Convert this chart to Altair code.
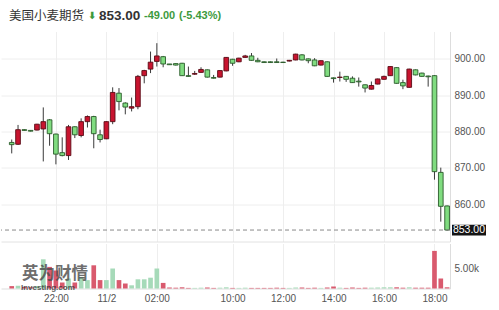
import altair as alt
import pandas as pd

# ---------------- data ----------------
IDX = list(range(70))
OPEN = [877.0, 876.5, 880.5, 880.3, 880.4, 880.7, 883.2, 879.3, 874.2, 873.4,
        881.3, 878.9, 882.7, 884.1, 879.1, 878.0, 882.7, 890.5, 887.8, 886.4,
        886.8, 895.3, 897.1, 899.2, 900.5, 898.5, 898.6, 898.7, 895.3, 895.7,
        896.2, 896.9, 894.8, 894.9, 896.6, 899.8, 899.1, 900.3, 900.7, 899.5,
        899.1, 899.1, 899.1, 899.0, 899.3, 899.6, 901.0, 899.9, 899.6, 898.2,
        899.1, 894.7, 894.8, 895.1, 894.6, 893.8, 892.8, 891.6, 893.0, 894.3,
        895.3, 897.5, 893.4, 892.1, 896.9, 896.0, 895.2, 895.3, 868.8, 859.6]
CLOSE = [876.4, 880.5, 880.3, 880.1, 882.0, 882.7, 879.4, 873.8, 873.4, 881.3,
         879.1, 882.7, 884.1, 879.4, 877.8, 882.7, 890.7, 888.2, 886.7, 886.8,
         895.1, 896.7, 899.0, 900.7, 898.5, 898.3, 898.2, 895.3, 895.1, 895.9,
         897.0, 894.9, 894.6, 896.7, 900.3, 898.7, 900.1, 900.7, 899.5, 899.1,
         898.9, 898.9, 898.9, 898.9, 899.5, 901.2, 899.6, 899.4, 898.0, 899.4,
         895.1, 894.5, 894.9, 894.3, 893.4, 893.6, 891.9, 892.6, 894.4, 895.1,
         897.8, 893.2, 892.5, 897.1, 895.5, 895.1, 895.0, 869.0, 859.5, 853.0]
HIGH = [877.8, 881.8, 880.6, 880.4, 882.1, 886.6, 883.4, 879.4, 878.4, 881.8,
        881.4, 883.6, 884.4, 884.3, 880.5, 882.8, 892.1, 891.9, 888.0, 889.3,
        895.5, 896.9, 901.9, 904.2, 900.7, 898.5, 898.7, 898.8, 897.8, 896.6,
        897.6, 897.0, 895.5, 896.8, 900.4, 899.9, 900.2, 901.0, 901.5, 900.2,
        899.2, 899.2, 900.0, 899.1, 899.6, 901.3, 901.2, 900.0, 900.1, 899.5,
        899.2, 894.8, 896.4, 895.2, 895.1, 894.8, 892.9, 893.7, 894.5, 895.3,
        897.9, 897.6, 894.2, 897.2, 897.0, 896.1, 895.3, 895.4, 870.1, 859.7]
LOW = [874.0, 876.3, 880.2, 880.0, 880.3, 871.8, 876.1, 871.0, 873.2, 872.2,
       878.2, 878.4, 881.1, 875.4, 877.0, 877.9, 882.0, 885.8, 884.7, 885.5,
       886.1, 893.2, 896.0, 897.8, 897.6, 898.3, 898.1, 895.2, 895.0, 895.5,
       896.1, 894.8, 894.5, 894.8, 896.5, 898.0, 899.0, 900.2, 899.4, 899.0,
       898.8, 898.8, 898.8, 898.8, 899.2, 899.5, 899.5, 898.7, 897.9, 898.1,
       895.0, 893.4, 893.7, 893.6, 893.3, 892.3, 890.7, 891.5, 892.9, 894.2,
       895.2, 893.1, 891.6, 892.0, 895.4, 895.0, 892.3, 866.8, 855.3, 852.8]
VOLUME = [600, 700, 400, 300, 600, 7300, 5400, 4500, 1500, 2500,
          1500, 2900, 2100, 5800, 2100, 2100, 5000, 2100, 1250, 800,
          2300, 2300, 2700, 5000, 1400, 250, 200, 300, 150, 150,
          200, 250, 150, 200, 300, 150, 150, 200, 150, 150,
          150, 150, 200, 150, 150, 250, 250, 150, 200, 150,
          250, 500, 200, 150, 250, 150, 200, 200, 250, 300,
          300, 300, 200, 300, 200, 200, 200, 9400, 2500, 300]

TICK_POS = [7, 15, 23, 35, 43, 51, 59, 67]
TICK_LABELS = ["22:00", "11/2", "02:00", "10:00", "12:00", "14:00", "16:00", "18:00"]
PRICE_TICKS = [860, 870, 880, 890, 900]
VOL_TICKS = [5000]
LAST_PRICE = 853.00
NAME = "美国小麦期货"
CHANGE = "-49.00"
CHANGE_PCT = "(-5.43%)"

# ---------------- styles ----------------
RED = "#c8142f"
RED_EDGE = "#5a0c16"
GREEN = "#80dc80"
GREEN_EDGE = "#2a5a2a"
VOL_GREEN = "#a6dab9"
VOL_RED = "#d95a6e"
TXT_GREEN = "#3d9a3d"
NUM_FONT = "Liberation Sans"
CJK_FONT = "Noto Sans CJK SC"

df = pd.DataFrame({"i": IDX, "o": OPEN, "h": HIGH, "l": LOW, "c": CLOSE, "v": VOLUME})
df["x0"] = df["i"] - 0.37
df["x1"] = df["i"] + 0.37
df["top"] = df[["o", "c"]].max(axis=1)
df["bot"] = df[["o", "c"]].min(axis=1)
df["v0"] = 0

last_df = pd.DataFrame({"p": [LAST_PRICE]})

xs = alt.Scale(domain=[-1.7, 69.46], nice=False, zero=False)
ys = alt.Scale(domain=[849.86, 907.40], nice=False, zero=False)
vs = alt.Scale(domain=[0, 11250], nice=False, zero=True)

ax_top_x = alt.Axis(values=TICK_POS, labels=False, ticks=False, title=None,
                    grid=True, gridColor="#eeeeee", domain=True, domainColor="#e2e2e2")
ax_top_y = alt.Axis(orient="right", values=PRICE_TICKS, format=".2f", ticks=False,
                    title=None, grid=True, gridColor="#eeeeee", domainColor="#dddddd",
                    labelPadding=4)

label_expr = ""
for pos, lab in zip(TICK_POS, TICK_LABELS):
    label_expr += f"datum.value == {pos} ? '{lab}' : "
label_expr += "''"

ax_bot_x = alt.Axis(values=TICK_POS, labelExpr=label_expr, ticks=False, title=None,
                    grid=True, gridColor="#eeeeee", domainColor="#dddddd", labelPadding=5)
ax_bot_y = alt.Axis(orient="right", values=VOL_TICKS,
                    labelExpr="format(datum.value / 1000, '.2f') + 'k'",
                    ticks=False, grid=False, title=None, domainColor="#dddddd", labelPadding=4)

up = "datum.c >= datum.o"
base = alt.Chart(df)

wicks = base.mark_rule(color="#3a3a3a", strokeWidth=1).encode(
    x=alt.X("i:Q", scale=xs, axis=ax_top_x),
    y=alt.Y("l:Q", scale=ys, axis=ax_top_y),
    y2="h:Q",
)
bodies = base.mark_bar(strokeWidth=0.9).encode(
    x=alt.X("x0:Q", scale=xs, axis=ax_top_x),
    x2="x1:Q",
    y=alt.Y("bot:Q", scale=ys, axis=ax_top_y),
    y2="top:Q",
    fill=alt.condition(up, alt.value(RED), alt.value(GREEN)),
    stroke=alt.condition(up, alt.value(RED_EDGE), alt.value(GREEN_EDGE)),
)
last_line = alt.Chart(last_df).mark_rule(color="#8a8a8a", strokeDash=[4, 3], strokeWidth=1).encode(
    y=alt.Y("p:Q", scale=ys, axis=ax_top_y),
)
last_box = alt.Chart(last_df).transform_calculate(
    lo="datum.p - 1.47", hi="datum.p + 1.47"
).mark_rect(color="#151515").encode(
    x=alt.value(451), x2=alt.value(485),
    y=alt.Y("lo:Q", scale=ys, axis=ax_top_y), y2="hi:Q",
)
last_text = alt.Chart(last_df).mark_text(color="white", fontSize=10.5, font=NUM_FONT,
                                         align="center", baseline="middle").encode(
    x=alt.value(468),
    y=alt.Y("p:Q", scale=ys, axis=ax_top_y),
    text=alt.Text("p:Q", format=".2f"),
)


def head(txt, x, size, color, font, weight="normal"):
    return alt.Chart(pd.DataFrame({"t": [txt]})).mark_text(
        align="left", baseline="middle", fontSize=size, color=color, font=font, fontWeight=weight
    ).encode(x=alt.value(x), y=alt.value(-16), text="t:N")


title_layers = [
    head(NAME, 8, 12.5, "#333333", CJK_FONT),
    head("⬇", 87, 10, TXT_GREEN, "DejaVu Sans", "bold"),
    head(f"{LAST_PRICE:.2f}", 98, 13.5, "#333333", NUM_FONT, "bold"),
    head(CHANGE, 143, 11, TXT_GREEN, NUM_FONT, "bold"),
    head(CHANGE_PCT, 178, 11, TXT_GREEN, NUM_FONT, "bold"),
]

top = alt.layer(wicks, bodies, last_line, last_box, last_text, *title_layers).properties(
    width=449, height=210
)

vol = base.mark_bar().encode(
    x=alt.X("x0:Q", scale=xs, axis=ax_bot_x),
    x2="x1:Q",
    y=alt.Y("v:Q", scale=vs, axis=ax_bot_y),
    y2="v0:Q",
    fill=alt.condition(up, alt.value(VOL_GREEN), alt.value(VOL_RED)),
)
wm1 = alt.Chart(pd.DataFrame({"t": ["英为财情"]})).mark_text(
    align="center", baseline="middle", fontSize=16.5, fontWeight="bold", color="#4a4a4a",
    opacity=0.8, font=CJK_FONT
).encode(x=alt.value(54), y=alt.value(30), text="t:N")
wm2 = alt.Chart(pd.DataFrame({"t": ["Investing.com"]})).mark_text(
    align="left", baseline="middle", fontSize=8, fontWeight="bold", color="#333333",
    opacity=0.8, font=NUM_FONT
).encode(x=alt.value(20), y=alt.value(44), text="t:N")

bottom = alt.layer(vol, wm1, wm2).properties(width=449, height=45)

chart = alt.vconcat(top, bottom, spacing=0).properties(
    padding={"left": 0, "top": 7.5, "right": 0, "bottom": 0},
    background="white",
).configure_view(stroke="transparent").configure_axis(
    labelFont=NUM_FONT, labelFontSize=10, labelColor="#555555"
)

chart.save("out.html", embed_options={"renderer": "svg", "actions": False})
